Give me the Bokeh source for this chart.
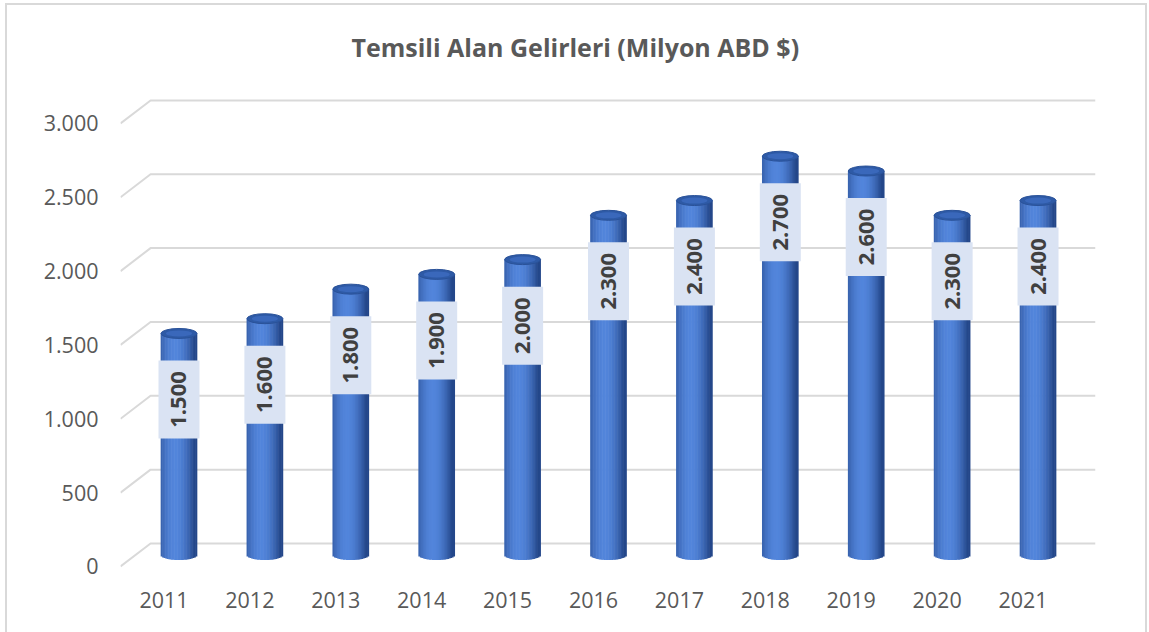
import numpy as np
from bokeh.plotting import figure
from bokeh.models import ColumnDataSource, FixedTicker, Range1d
from bokeh.embed import file_html
from bokeh.resources import INLINE
from bokeh.core.properties import value

# ---------------- data ----------------
title_text = "Temsili Alan Gelirleri (Milyon ABD $)"
years = ["2011", "2012", "2013", "2014", "2015", "2016", "2017", "2018", "2019", "2020", "2021"]
revenues = [1500, 1600, 1800, 1900, 2000, 2300, 2400, 2700, 2600, 2300, 2400]
value_labels = ["1.500", "1.600", "1.800", "1.900", "2.000", "2.300", "2.400", "2.700", "2.600", "2.300", "2.400"]
y_ticks = [0, 500, 1000, 1500, 2000, 2500, 3000]
y_tick_labels = ["0", "500", "1.000", "1.500", "2.000", "2.500", "3.000"]

# ---------------- geometry / style ----------------
W, H = 1149, 632
FL, FR, FT, FB = 120, 1095, 90, 575   # frame edges (px)
PX_CAT = 85.75          # px per category
PX_VAL = 0.14767        # px per value unit
X0, X1 = -0.506, 10.844
Y0, Y1 = -61, 3223
DX = 30 / PX_CAT        # 3D depth (x)
DV = 23 / PX_VAL        # 3D depth (y)
BAR_PX = 36
CAP_PX = 10
N_STRIPS = 24
LABEL_DROP = 66 / PX_VAL
FONT = "Open Sans"
GREY = "#595959"
BORDER = "#D9D9D9"

p = figure(width=W, height=H, output_backend="svg", toolbar_location=None,
           x_range=Range1d(X0, X1), y_range=Range1d(Y0, Y1),
           min_border_left=FL, min_border_right=W - FR,
           min_border_top=FT, min_border_bottom=H - FB,
           background_fill_color="white", border_fill_color=None)
p.outline_line_color = None
p.xgrid.visible = False
p.ygrid.visible = False

# title
p.title.text = title_text
p.title.text_font = FONT
p.title.text_font_style = "bold"
p.title.text_font_size = "25px"
p.title.text_color = GREY
p.title.align = "left"
p.title.offset = 231
p.title.standoff = 54

# axes
for ax in (p.xaxis[0], p.yaxis[0]):
    ax.axis_line_color = None
    ax.major_tick_line_color = None
    ax.minor_tick_line_color = None
    ax.major_label_text_font = FONT
    ax.major_label_text_font_size = "21.5px"
    ax.major_label_text_color = GREY
p.xaxis.ticker = FixedTicker(ticks=list(range(len(years))))
p.xaxis.major_label_overrides = {i: y for i, y in enumerate(years)}
p.xaxis.major_label_standoff = 10
p.yaxis.ticker = FixedTicker(ticks=y_ticks)
p.yaxis.major_label_overrides = {t: l for t, l in zip(y_ticks, y_tick_labels)}
p.yaxis.major_label_standoff = 16

# perspective gridlines
gxs = [[X0, X0 + DX, X1] for t in y_ticks]
gys = [[t, t + DV, t + DV] for t in y_ticks]
p.multi_line(xs=gxs, ys=gys, line_color=BORDER, line_width=2)

# cylinders (shaded strips)
dark = np.array([0x24, 0x47, 0x8A], float)
light = np.array([0x52, 0x85, 0xDB], float)
a = BAR_PX / 2
sw = BAR_PX / N_STRIPS
sx, stop, sbot, scol, swid = [], [], [], [], []
base = DV / 2
for i, v in enumerate(revenues):
    bx = i + DX / 2
    for k in range(N_STRIPS):
        u = -a + (k + 0.5) * sw
        t = u / a
        f = max(0.0, np.cos((t + 0.2) * np.pi / 2 * 0.95)) ** 0.9
        c = dark + (light - dark) * f
        h = (CAP_PX / 2) * np.sqrt(max(0.0, 1 - t * t))
        sx.append(bx + u / PX_CAT)
        stop.append(v + base)
        sbot.append(base - h / PX_VAL)
        scol.append("#%02x%02x%02x" % tuple(int(round(x)) for x in c))
        swid.append((sw + 0.6) / PX_CAT)
strips = ColumnDataSource(dict(x=sx, top=stop, bottom=sbot, color=scol, w=swid))
p.vbar(x="x", top="top", bottom="bottom", width="w", source=strips,
       fill_color="color", line_color=None)

bars = ColumnDataSource(dict(
    x=[i + DX / 2 for i in range(len(years))],
    top=[v + base for v in revenues],
    lab_y=[v + base - LABEL_DROP for v in revenues],
    lab=value_labels,
))
p.ellipse(x="x", y="top", width=BAR_PX, height=CAP_PX, width_units="screen",
          height_units="screen", source=bars, fill_color="#2E5AA6", line_color="#2A5299", line_width=1)
p.ellipse(x="x", y="top", width=BAR_PX - 10, height=CAP_PX - 4, width_units="screen",
          height_units="screen", source=bars, fill_color="#3D6CC0", line_color=None, fill_alpha=0.8)

# data labels
p.rect(x="x", y="lab_y", width=41, height=78, width_units="screen", height_units="screen",
       source=bars, fill_color="#DAE3F3", line_color=None)
p.text(x="x", y="lab_y", text="lab", angle=np.pi / 2, source=bars,
       text_align="center", text_baseline="middle", text_font=value(FONT),
       text_font_style="bold", text_font_size="22px", text_color="#404040")

# chart-area border (painted behind the transparent canvas border area)
g = f"linear-gradient({BORDER},{BORDER})"
p.styles = {
    "background-color": "white",
    "background-image": f"{g}, {g}, {g}",
    "background-size": "2px 100%, 1142px 2px, 2px 100%",
    "background-position": "5px 3px, 5px 3px, 1145px 3px",
    "background-repeat": "no-repeat",
}

open("out.html", "w").write(file_html(p, INLINE))
